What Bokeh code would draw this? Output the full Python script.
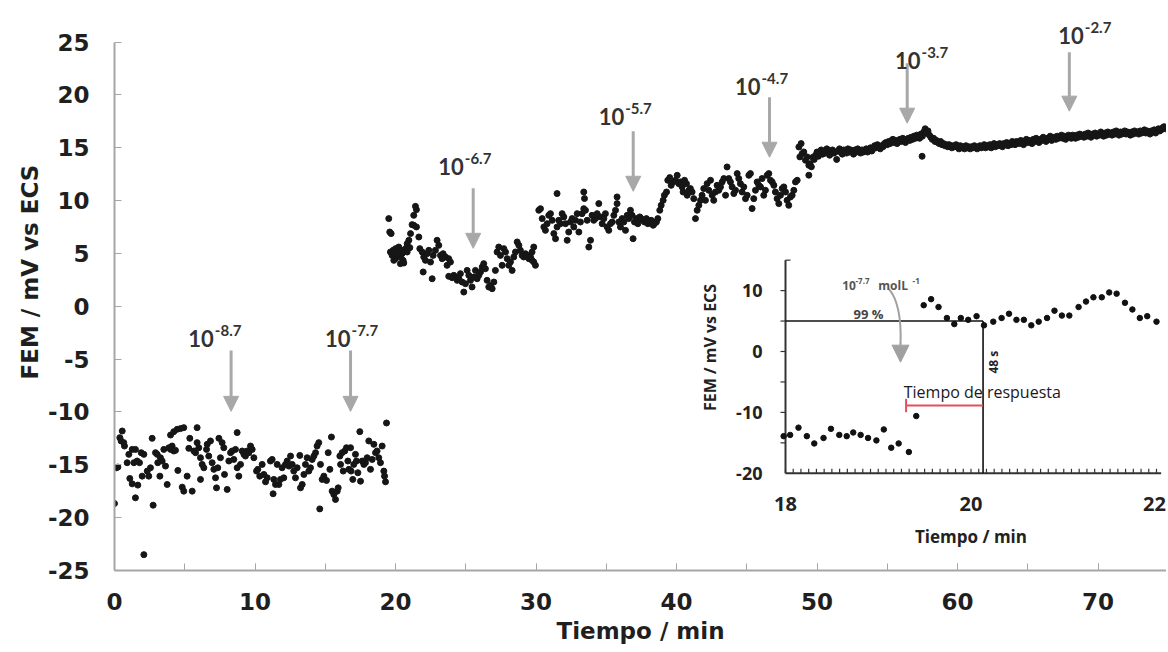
import math
from bokeh.plotting import figure
from bokeh.models import (ColumnDataSource, Range1d, SingleIntervalTicker, Label,
                          Arrow, NormalHead, Title)
from bokeh.embed import file_html
from bokeh.resources import INLINE

# ---------------- DATA ----------------
# time (min), FEM (mV vs ECS) - first part (0 - 19.4 min)
SEG_A = [(0.0,-18.66),(0.14,-15.28),(0.24,-15.21),(0.55,-11.8),(0.38,-12.43),(0.47,-12.74),(0.66,-12.9),
 (0.71,-13.22),(0.9,-14.8),(1.02,-14.01),(1.26,-13.54),(1.38,-14.8),(1.49,-13.54),(1.61,-14.64),(1.78,-14.8),
 (1.9,-13.85),(1.97,-16.07),(2.09,-14.01),(1.09,-16.29),(1.26,-16.8),(1.49,-18.12),(1.66,-16.92),(2.09,-23.5),
 (2.33,-15.59),(2.44,-16.07),(2.56,-15.28),(2.68,-12.49),(2.75,-18.82),(2.92,-13.85),(3.04,-14.01),(3.08,-14.8),
 (3.23,-16.07),(3.27,-14.33),(3.39,-14.64),(3.51,-13.54),(3.63,-15.12),(3.75,-16.86),(3.87,-13.38),(3.99,-13.54),
 (4.1,-13.22),(4.22,-13.69),(4.34,-13.63),(3.99,-12.18),(4.22,-11.86),(4.46,-11.64),(4.7,-11.57),(4.93,-11.48),
 (4.51,-15.53),(4.82,-17.11),(4.93,-17.49),(5.17,-16.07),(5.29,-13.44),(5.36,-12.49),(5.53,-17.49),(5.65,-13.69),
 (5.77,-13.85),(5.88,-11.48),(5.88,-12.9),(6.0,-13.38),(6.12,-14.33),(6.12,-16.38),(6.24,-14.96),(6.36,-15.28),
 (6.55,-13.54),(6.6,-13.06),(6.71,-14.17),(6.83,-12.74),(6.95,-14.8),(7.07,-15.43),(7.19,-16.23),(7.26,-17.18),
 (7.35,-15.28),(7.43,-12.49),(7.54,-14.33),(7.66,-12.9),(7.78,-13.38),(7.83,-15.91),(8.02,-17.33),(8.14,-14.64),
 (8.26,-13.85),(8.37,-13.69),(8.49,-14.49),(8.61,-13.54),(8.73,-11.95),(8.73,-15.28),(8.85,-16.07),(8.97,-14.96),
 (9.09,-13.69),(9.21,-14.01),(9.32,-14.17),(9.44,-13.69),(9.56,-13.85),(9.68,-13.22),(9.8,-13.54),(9.92,-14.33),
 (10.11,-15.59),(10.2,-15.43),(10.34,-16.07),(10.51,-14.96),(10.63,-15.91),(10.75,-16.61),(10.87,-16.23),
 (11.1,-14.64),(11.22,-14.49),(11.29,-17.74),(11.34,-16.38),(11.46,-16.86),(11.58,-14.96),(11.7,-16.86),
 (11.81,-16.38),(11.93,-15.28),(12.05,-16.23),(12.17,-14.96),(12.29,-14.64),(12.41,-15.12),(12.53,-14.17),
 (12.65,-14.96),(12.76,-15.59),(12.88,-16.23),(13.0,-15.28),(13.19,-14.11),(13.24,-17.18),(13.36,-16.86),
 (13.48,-15.91),(13.59,-14.96),(13.71,-14.33),(13.83,-15.59),(13.95,-15.28),(14.07,-14.49),(14.19,-14.17),
 (14.31,-13.85),(14.42,-13.22),(14.54,-12.9),(14.61,-19.17),(14.66,-14.96),(14.78,-16.38),(14.9,-16.07),
 (15.09,-16.48),(15.21,-13.85),(15.33,-15.43),(15.44,-12.37),(15.49,-17.49),(15.61,-17.81),(15.73,-18.28),
 (15.85,-17.49),(15.92,-17.18),(16.04,-14.17),(16.09,-14.96),(16.2,-13.85),(16.28,-15.59),(16.39,-13.69),
 (16.51,-13.38),(16.61,-14.64),(16.68,-15.43),(16.8,-13.38),(16.84,-15.59),(16.96,-16.38),(17.03,-14.96),
 (17.15,-14.01),(17.22,-14.64),(17.32,-15.75),(17.46,-11.86),(17.51,-16.55),(17.63,-14.64),(17.75,-14.96),
 (17.86,-14.8),(17.98,-14.33),(18.1,-12.74),(18.22,-15.43),(18.34,-14.49),(18.46,-13.06),(18.58,-13.85),
 (18.69,-13.69),(18.81,-14.33),(18.93,-14.8),(19.05,-13.22),(19.17,-15.59),(19.22,-16.07),(19.29,-16.61),
 (19.36,-11.04)]

# second part (19.5 - 49.5 min)
SEG_B = [(19.52,8.3),(19.59,7.03),(19.69,6.88),(21.42,9.46),(21.49,9.15),(21.3,8.61),(21.18,7.73),(21.3,7.67),
 (21.49,7.51),(21.66,6.56),(21.07,6.88),(20.95,6.25),(20.83,5.93),(20.71,5.46),(20.59,5.3),(20.47,4.98),
 (20.35,4.67),(20.23,5.14),(20.12,4.82),(20.0,4.51),(19.88,4.35),(19.76,4.82),(19.64,5.14),(19.83,5.3),
 (20.0,5.46),(20.23,5.61),(20.54,4.35),(20.59,4.1),(20.35,4.04),(20.83,5.14),(21.02,5.55),(21.73,5.46),
 (21.9,5.14),(22.01,4.67),(22.13,4.35),(21.97,3.25),(22.25,4.98),(22.37,5.3),(22.49,4.19),(22.61,2.61),
 (22.68,4.82),(22.84,5.3),(22.96,6.25),(23.08,5.77),(23.2,4.82),(23.32,4.51),(23.39,4.98),(23.56,4.67),
 (23.67,3.88),(23.79,4.51),(23.91,4.19),(23.79,2.84),(24.03,2.71),(24.15,2.93),(24.27,2.77),(24.39,2.46),
 (24.51,2.61),(24.62,3.09),(24.74,2.3),(24.86,1.35),(24.98,2.14),(25.1,3.4),(25.22,2.93),(25.34,2.46),
 (25.45,1.83),(25.57,2.77),(25.69,3.4),(25.81,2.61),(25.93,2.93),(26.05,3.25),(26.17,3.72),(26.28,4.04),
 (26.4,3.56),(26.52,2.46),(26.64,1.83),(26.76,1.98),(26.88,1.67),(27.0,2.3),(27.11,3.4),(27.23,5.14),
 (27.35,5.61),(27.47,4.82),(27.59,3.88),(27.71,5.46),(27.83,5.14),(27.95,4.51),(28.06,3.88),(28.18,4.19),
 (28.3,3.4),(28.42,4.67),(28.54,5.14),(28.66,6.09),(28.78,5.77),(28.89,5.3),(29.01,4.82),(29.13,4.67),
 (29.25,4.98),(29.37,4.82),(29.49,4.51),(29.61,4.67),(29.72,4.35),(29.84,4.19),(29.96,3.88),(29.72,5.14),
 (29.84,5.61),(30.2,9.09),(30.32,9.24),(30.44,8.3),(30.56,7.51),(30.67,7.19),(30.79,7.82),(30.91,8.61),
 (31.03,8.77),(31.15,8.14),(31.27,6.88),(31.39,6.4),(31.5,7.51),(31.62,8.14),(31.74,7.82),(31.86,8.77),
 (31.98,8.46),(32.1,7.82),(32.22,6.25),(32.33,7.03),(32.45,7.98),(32.57,8.3),(32.69,7.51),(32.81,8.14),
 (32.93,8.77),(33.05,7.03),(33.16,7.98),(33.28,8.77),(33.4,9.24),(33.52,9.09),(33.64,8.14),(33.76,5.61),
 (33.88,6.25),(33.99,8.61),(34.11,8.14),(34.23,8.3),(34.35,8.77),(34.47,9.72),(34.59,8.46),(34.71,7.82),
 (34.83,8.3),(34.94,8.77),(35.06,7.51),(35.18,7.19),(35.3,7.82),(35.42,7.98),(35.54,8.61),(35.66,9.09),
 (35.77,9.72),(35.89,7.98),(36.01,7.51),(36.13,8.3),(36.25,7.98),(36.37,7.19),(36.49,8.61),(36.6,8.3),
 (36.72,9.09),(36.84,8.61),(36.91,6.4),(37.01,7.98),(37.15,8.3),(37.25,7.82),(37.39,8.46),(37.48,8.3),
 (37.62,8.14),(37.72,7.98),(37.86,8.3),(37.96,7.82),(38.1,7.98),(38.2,8.14),(38.34,7.67),(38.43,7.82),
 (38.57,7.98),(38.67,8.3),(31.5,10.67),(33.4,10.82),(33.45,10.2),(35.77,10.35),
 (38.81,9.09),(38.91,9.56),(39.05,10.03),(39.14,10.51),(39.29,10.82),(39.38,11.93),(39.52,12.18),(39.62,11.45),
 (39.76,11.77),(39.93,11.93),(40.05,12.4),(40.16,11.61),(40.28,11.77),(40.4,11.3),(40.47,10.82),(40.57,11.93),
 (40.71,11.61),(40.76,10.51),(40.88,10.98),(40.99,11.14),(41.11,10.82),(41.23,10.19),(41.35,8.3),(41.47,9.09),
 (41.59,9.56),(41.71,10.03),(41.82,10.51),(41.94,11.14),(42.06,10.03),(42.18,11.61),(42.3,10.98),(42.42,11.93),
 (42.54,10.51),(42.65,10.03),(42.77,10.82),(42.89,11.45),(43.01,10.98),(43.13,11.3),(43.25,11.77),(43.37,12.09),
 (43.49,10.51),(43.6,13.19),(43.72,12.09),(43.84,11.77),(43.96,11.3),(44.08,10.67),(44.2,10.98),(44.32,12.56),
 (44.43,12.09),(44.55,11.61),(44.67,10.82),(44.79,11.3),(44.91,10.19),(45.03,10.51),(45.15,12.4),(45.26,12.56),
 (45.38,9.25),(45.5,10.19),(45.62,10.98),(45.74,11.77),(45.86,11.45),(45.98,11.3),(46.09,12.09),(46.21,10.51),
 (46.33,10.98),(46.45,12.4),(46.57,12.56),(46.69,11.93),(46.81,11.77),(46.93,11.45),(47.04,10.82),(47.16,10.19),
 (47.28,9.72),(47.4,10.51),(47.52,11.14),(47.64,11.3),(47.76,10.82),(47.87,10.03),(47.99,9.56),(48.11,10.35),
 (48.23,10.51),(48.35,10.98),(48.47,11.77),(48.59,11.93),
 (48.71,15.08),(48.78,14.14),(48.87,15.4),(48.94,14.45),(49.06,14.61),(49.18,13.82),(49.3,14.14),
 (49.42,13.35),(49.42,12.41),(57.48,14.2)]

# third part: one reading every 0.1 min from 49.5 min
SEG_C_START = 49.5
SEG_C_STEP = 0.1
SEG_C_FEM = [13.5,13.2,14.1,13.9,14.3,14.6,14.2,14.5,14.8,14.4,14.7,14.5,14.9,14.6,14.3,14.7,14.8,14.5,14.6,13.9,
 14.7,14.9,14.6,14.4,14.8,14.7,14.5,14.9,14.6,14.8,14.7,14.4,14.8,14.6,14.9,14.7,14.5,14.8,14.6,14.7,
 14.9,14.6,14.8,15.0,14.7,14.9,15.2,15.0,15.3,15.1,14.9,15.2,15.1,15.4,15.5,15.3,15.6,15.4,15.7,15.8,
 15.5,15.7,15.4,15.6,15.8,15.6,15.9,15.7,15.5,15.8,15.9,15.7,16.0,15.8,16.1,15.9,16.2,16.0,15.9,16.3,
 16.1,16.5,16.8,16.4,16.6,16.2,16.0,15.8,15.9,15.6,15.7,15.5,15.4,15.6,15.3,15.4,15.2,15.3,15.1,15.3,
 15.2,15.0,15.2,15.1,15.3,15.1,14.9,15.2,15.0,15.1,14.9,15.2,15.0,15.1,14.9,15.1,15.0,15.2,15.0,14.9,
 15.1,15.2,15.0,15.1,15.3,15.0,15.2,15.1,15.3,15.0,15.2,15.4,15.1,15.3,15.2,15.4,15.2,15.1,15.4,15.3,
 15.5,15.2,15.4,15.3,15.6,15.4,15.3,15.6,15.5,15.4,15.7,15.5,15.3,15.6,15.8,15.5,15.7,15.6,15.4,15.8,
 15.6,15.9,15.7,15.5,15.8,15.7,16.0,15.8,15.6,15.9,15.8,16.1,15.7,15.9,16.0,15.8,16.1,15.9,16.0,16.2,
 15.9,16.1,15.8,16.0,16.2,16.0,15.9,16.2,16.1,15.9,16.2,16.0,16.3,16.1,16.2,16.0,16.3,16.1,16.4,16.2,
 16.0,16.3,16.2,16.4,16.1,16.3,16.2,16.5,16.3,16.1,16.4,16.2,16.5,16.3,16.4,16.2,16.5,16.3,16.6,16.4,
 16.2,16.5,16.3,16.4,16.6,16.3,16.5,16.4,16.2,16.5,16.3,16.6,16.4,16.5,16.3,16.6,16.4,16.5,16.7,16.4,
 16.6,16.5,16.3,16.6,16.5,16.7,16.4,16.6,16.8,16.6,16.7,16.9,17.0,16.8]

# concentration marks (mol/L exponents) and where they were added
CONC_EXP = ["-8.7", "-7.7", "-6.7", "-5.7", "-4.7", "-3.7", "-2.7"]
CONC_TIME = [8.3, 16.8, 25.53, 36.92, 46.62, 56.42, 67.96]
CONC_ARROW_TOP = [-4.17, -4.17, 11.17, 16.57, 19.79, 23.01, 24.05]
CONC_ARROW_TIP = [-10.32, -10.32, 5.11, 10.51, 13.73, 16.95, 18.09]
CONC_LABEL_X = [7.07, 16.8, 24.86, 36.28, 45.98, 57.37, 68.99]
CONC_LABEL_Y = [-3.06, -3.06, 13.19, 17.99, 20.83, 23.3, 25.66]

# inset: 18 - 22 min
INSET_T = [17.98,18.05,18.14,18.23,18.31,18.41,18.49,18.58,18.66,18.73,18.81,18.89,18.98,19.06,19.14,19.22,19.33,
 19.41,19.49,19.57,19.65,19.74,19.82,19.89,19.97,20.06,20.14,20.24,20.33,20.41,20.49,20.57,20.65,20.73,20.82,
 20.9,20.98,21.06,21.16,21.24,21.32,21.41,21.49,21.57,21.66,21.74,21.82,21.9,22.0]
INSET_FEM = [-13.9,-13.7,-12.5,-13.9,-15.1,-14.2,-12.7,-13.7,-13.9,-13.3,-13.7,-14.2,-14.6,-12.8,-15.8,-15.1,-16.5,
 -10.6,7.6,8.6,7.3,5.5,4.5,5.5,5.2,5.8,4.3,4.9,5.5,6.2,5.2,5.2,4.3,4.9,5.5,6.7,5.9,5.9,7.3,8.2,8.9,8.9,9.7,9.5,
 8.0,6.9,5.5,5.8,4.9]
INSET_X_TICKS = [18, 20, 22]
INSET_Y_TICKS = [-20, -10, 0, 10]
LEVEL_99 = 5.0
RESPONSE_START = 19.30
RESPONSE_END = 20.13
RESPONSE_LEVEL = -8.87

Y_TICKS = [-25, -20, -15, -10, -5, 0, 5, 10, 15, 20, 25]
X_TICK_INTERVAL = 10

# ---------------- LAYOUT ----------------
W, H = 1166, 652
FL, FT = 114, 11
FW = W - FL
Y_TOP = 27.9
FH = 559
MX = 14.05
X_END = FW / MX
MY = FH / (Y_TOP + 25.0)

# inset placement in canvas pixels
IX18, IX22 = 785.0, 1156.0
IPX = (IX22 - IX18) / 4.0
IY0, IPY = 351.0, 6.09
ix_start = 18 - (IX18 - FL) / IPX
ix_end = ix_start + FW / IPX
iy_end = (IY0 - FT) / IPY
iy_start = (IY0 - (FT + FH)) / IPY

GREY = "#a6a6a6"
TXT = "#1f1f1f"
MAINFONT = "DejaVu Sans"
ANNFONT = "Lato"
INFONT = "Open Sans"

p = figure(width=W, height=H, output_backend="svg", toolbar_location=None,
           x_range=Range1d(0, X_END), y_range=Range1d(-25, Y_TOP),
           min_border_left=FL, min_border_right=0, min_border_top=FT,
           min_border_bottom=H - FT - FH, title=None)
p.outline_line_color = None
p.xgrid.visible = False
p.ygrid.visible = False
p.background_fill_color = "white"
p.border_fill_color = "white"

p.xaxis.ticker = SingleIntervalTicker(interval=X_TICK_INTERVAL, num_minor_ticks=2)
p.yaxis.ticker = Y_TICKS
p.yaxis.bounds = (-25, 25)
p.yaxis.major_label_overrides = {v: str(v) for v in Y_TICKS}
for ax in (p.xaxis[0], p.yaxis[0]):
    ax.axis_line_color = GREY
    ax.axis_line_width = 2
    ax.major_tick_line_color = GREY
    ax.major_tick_in = 7
    ax.major_tick_out = 0
    ax.minor_tick_line_color = GREY
    ax.minor_tick_in = 7
    ax.minor_tick_out = 0
    ax.major_label_text_font = MAINFONT
    ax.major_label_text_font_style = "bold"
    ax.major_label_text_font_size = "23px"
    ax.major_label_text_color = TXT
p.yaxis.minor_tick_line_color = None
p.xaxis.major_label_standoff = 22
p.yaxis.major_label_standoff = 25

p.xaxis.axis_label = "Tiempo / min"
p.xaxis.axis_label_text_font = MAINFONT
p.xaxis.axis_label_text_font_style = "bold"
p.xaxis.axis_label_text_font_size = "23px"
p.xaxis.axis_label_text_color = TXT
p.xaxis.axis_label_standoff = 5

ytitle = Title(text="FEM / mV vs ECS", align="left", offset=191, standoff=4,
               text_font=MAINFONT, text_font_style="bold", text_font_size="23px",
               text_color=TXT)
p.add_layout(ytitle, "left")

# main data
xs = [t for t, _ in SEG_A] + [t for t, _ in SEG_B] + \
     [round(SEG_C_START + SEG_C_STEP * i, 2) for i in range(len(SEG_C_FEM))]
ys = [e for _, e in SEG_A] + [e for _, e in SEG_B] + SEG_C_FEM
p.scatter(x="t", y="e", source=ColumnDataSource(dict(t=xs, e=ys)), size=6,
          fill_color="#161616", line_color="#161616")

# concentration arrows + labels
ARROW_GREY = "#a8a8a8"
for xe, y0, y1, lx, ly, ex in zip(CONC_TIME, CONC_ARROW_TOP, CONC_ARROW_TIP,
                                  CONC_LABEL_X, CONC_LABEL_Y, CONC_EXP):
    p.add_layout(Arrow(x_start=xe, y_start=y0, x_end=xe, y_end=y1 + 4 / MY,
                       line_color=ARROW_GREY, line_width=3,
                       end=NormalHead(size=15, fill_color=ARROW_GREY, line_color=ARROW_GREY,
                                      line_width=1)))
    p.add_layout(Label(x=lx, y=ly, text="10", text_align="right", text_baseline="alphabetic",
                       text_font=ANNFONT, text_font_style="bold", text_font_size="22px",
                       text_color="#333333"))
    p.add_layout(Label(x=lx + 1 / MX, y=ly + 8 / MY, text=ex, text_align="left",
                       text_baseline="alphabetic", text_font=ANNFONT, text_font_style="bold",
                       text_font_size="15px", text_color="#333333"))

# ---------------- INSET ----------------
p.extra_x_ranges = {"ix": Range1d(ix_start, ix_end)}
p.extra_y_ranges = {"iy": Range1d(iy_start, iy_end)}
R = dict(x_range_name="ix", y_range_name="iy")
DARK = "#222222"

# axes lines
p.segment(x0=[18, 18], y0=[-20, -20], x1=[18, 22.05], y1=[15, -20], line_color="#333333",
          line_width=2, **R)
# x ticks every 5 s
xt = [18 + k / 12 for k in range(49)]
p.segment(x0=xt, y0=[-20] * len(xt), x1=xt, y1=[-20 + 4.5 / IPY] * len(xt),
          line_color="#333333", line_width=1.2, **R)
# y ticks
yt = [-15, -10, -5, 0, 5, 10]
p.segment(x0=[18] * len(yt), y0=yt, x1=[18 - 5 / IPX] * len(yt), y1=yt,
          line_color="#333333", line_width=1.2, **R)
p.segment(x0=[18], y0=[15], x1=[18 + 5 / IPX], y1=[15], line_color="#333333", line_width=1.2, **R)

for v in INSET_Y_TICKS:
    p.add_layout(Label(x=18 - 23 / IPX, y=v, text=str(v), text_align="right", text_baseline="middle",
                       text_font=INFONT, text_font_style="bold", text_font_size="18px",
                       text_color=DARK, **R))
for v in INSET_X_TICKS:
    p.add_layout(Label(x=v - (2 / IPX if v == 22 else 0), y=-25.1, text=str(v), text_align="center",
                       text_baseline="middle", text_font=INFONT, text_font_style="bold",
                       text_font_size="20px", text_color=DARK, **R))
p.add_layout(Label(x=20.0, y=-30.4, text="Tiempo / min", text_align="center", text_baseline="middle",
                   text_font=INFONT, text_font_style="bold", text_font_size="17px",
                   text_color=DARK, **R))
p.add_layout(Label(x=17.19, y=0.66, text="FEM / mV vs ECS", angle=math.pi / 2, text_align="center",
                   text_baseline="middle", text_font=INFONT, text_font_style="bold",
                   text_font_size="16px", text_color=DARK, **R))

# 99 % level and response time lines
p.segment(x0=[18, RESPONSE_END], y0=[LEVEL_99, LEVEL_99], x1=[RESPONSE_END, RESPONSE_END],
          y1=[LEVEL_99, -20], line_color="#111111", line_width=1.6, **R)
RED = "#e4505a"
p.segment(x0=[RESPONSE_START, RESPONSE_START], y0=[RESPONSE_LEVEL, RESPONSE_LEVEL - 1.1],
          x1=[RESPONSE_END, RESPONSE_START], y1=[RESPONSE_LEVEL, RESPONSE_LEVEL + 1.1],
          line_color=RED, line_width=2, **R)

# inset data
p.scatter(x=INSET_T, y=INSET_FEM, size=5.5, fill_color="#111111", line_color="#111111", **R)

# inset texts
p.add_layout(Label(x=18.895, y=6.19, text="99 %", text_align="center", text_baseline="alphabetic",
                   text_font=INFONT, text_font_style="bold", text_font_size="13px",
                   text_color="#444444", **R))
p.add_layout(Label(x=20.246, y=-1.76, text="48 s", angle=math.pi / 2, text_align="center",
                   text_baseline="middle", text_font=INFONT, text_font_style="bold",
                   text_font_size="12px", text_color=DARK, **R))
p.add_layout(Label(x=19.275, y=-6.68, text="Tiempo de respuesta", text_align="left",
                   text_baseline="alphabetic", text_font=INFONT, text_font_size="16px",
                   text_color="#1a1a1a", **R))
CG = "#555555"
p.add_layout(Label(x=18.611, y=10.84, text="10", text_align="left", text_baseline="alphabetic",
                   text_font=INFONT, text_font_style="bold", text_font_size="12px", text_color=CG, **R))
p.add_layout(Label(x=18.755, y=10.84 + 4 / IPY, text="-7.7", text_align="left",
                   text_baseline="alphabetic", text_font=INFONT, text_font_style="bold",
                   text_font_size="8px", text_color=CG, **R))
p.add_layout(Label(x=19.0, y=10.84, text="molL", text_align="left", text_baseline="alphabetic",
                   text_font=INFONT, text_font_style="bold", text_font_size="12px", text_color=CG, **R))
p.add_layout(Label(x=19.37, y=10.84 + 4 / IPY, text="-1", text_align="left",
                   text_baseline="alphabetic", text_font=INFONT, text_font_style="bold",
                   text_font_size="8px", text_color=CG, **R))

# curved grey arrow
IA = "#a0a0a0"
p.bezier(x0=[19.114], y0=[10.29], x1=[19.24], y1=[1.2], cx0=[19.222], cy0=[8.37],
         cx1=[19.248], cy1=[4.54], line_color=IA, line_width=2, **R)
p.add_layout(Arrow(x_start=19.24, y_start=1.3, x_end=19.24, y_end=-1.75, line_color=IA,
                   line_width=2, end=NormalHead(size=17, fill_color=IA, line_color=IA),
                   **R))

open("out.html", "w").write(file_html(p, INLINE))
